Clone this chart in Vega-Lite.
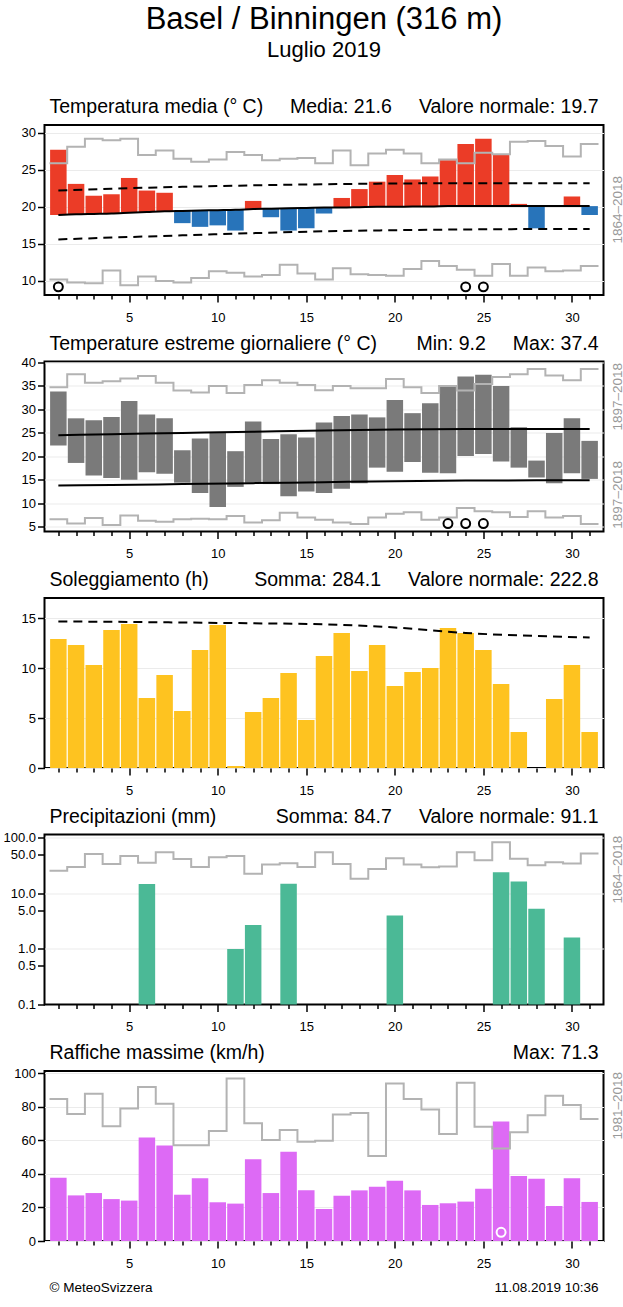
{
  "$schema": "https://vega.github.io/schema/vega-lite/v6.json",
  "background": "white",
  "padding": {"left": 1.5, "top": 4, "right": 0, "bottom": 0},
  "title": {"text": "Basel / Binningen (316 m)", "subtitle": "Luglio 2019", "fontSize": 31, "subtitleFontSize": 22, "fontWeight": "normal", "anchor": "middle", "frame": "group", "offset": 34, "subtitlePadding": 4, "color": "black", "subtitleColor": "black", "font": "Liberation Sans", "subtitleFont": "Liberation Sans"},
  "spacing": 7.5,
  "datasets": {
    "days": [
      {"day":1,"t":27.7,"n":18.9,"r1":true,"mn":22.3,"mx":33.8,"r2":false,"s":12.9,"p":0,"g":37.8,"r5":false},
      {"day":2,"t":23.1,"n":19.0,"r1":false,"mn":18.6,"mx":28.1,"r2":false,"s":12.3,"p":0,"g":27.2,"r5":false},
      {"day":3,"t":21.5,"n":19.05,"r1":false,"mn":15.9,"mx":27.7,"r2":false,"s":10.3,"p":0,"g":28.6,"r5":false},
      {"day":4,"t":21.7,"n":19.1,"r1":false,"mn":15.4,"mx":28.4,"r2":false,"s":13.8,"p":0,"g":25.0,"r5":false},
      {"day":5,"t":23.9,"n":19.2,"r1":false,"mn":15.0,"mx":31.8,"r2":false,"s":14.4,"p":0,"g":24.1,"r5":false},
      {"day":6,"t":22.2,"n":19.3,"r1":false,"mn":16.6,"mx":28.9,"r2":false,"s":7.0,"p":14.8,"g":61.8,"r5":false},
      {"day":7,"t":21.9,"n":19.4,"r1":false,"mn":16.3,"mx":28.1,"r2":false,"s":9.3,"p":0,"g":56.9,"r5":false},
      {"day":8,"t":17.8,"n":19.45,"r1":false,"mn":14.4,"mx":21.3,"r2":false,"s":5.7,"p":0,"g":27.6,"r5":false},
      {"day":9,"t":17.3,"n":19.5,"r1":false,"mn":12.2,"mx":23.8,"r2":false,"s":11.8,"p":0,"g":37.4,"r5":false},
      {"day":10,"t":17.5,"n":19.55,"r1":false,"mn":9.2,"mx":25.0,"r2":false,"s":14.3,"p":0,"g":23.1,"r5":false},
      {"day":11,"t":16.8,"n":19.6,"r1":false,"mn":13.5,"mx":21.1,"r2":false,"s":0.2,"p":1.0,"g":22.3,"r5":false},
      {"day":12,"t":20.8,"n":19.7,"r1":false,"mn":14.4,"mx":27.4,"r2":false,"s":5.6,"p":2.7,"g":48.7,"r5":false},
      {"day":13,"t":18.6,"n":19.75,"r1":false,"mn":14.1,"mx":23.7,"r2":false,"s":7.0,"p":0,"g":28.6,"r5":false},
      {"day":14,"t":16.8,"n":19.8,"r1":false,"mn":11.5,"mx":24.7,"r2":false,"s":9.5,"p":14.9,"g":53.3,"r5":false},
      {"day":15,"t":17.1,"n":19.85,"r1":false,"mn":12.5,"mx":24.0,"r2":false,"s":4.8,"p":0,"g":30.2,"r5":false},
      {"day":16,"t":19.1,"n":19.9,"r1":false,"mn":12.2,"mx":27.2,"r2":false,"s":11.2,"p":0,"g":19.1,"r5":false},
      {"day":17,"t":21.2,"n":19.9,"r1":false,"mn":13.1,"mx":28.6,"r2":false,"s":13.5,"p":0,"g":27.0,"r5":false},
      {"day":18,"t":22.4,"n":19.95,"r1":false,"mn":14.3,"mx":28.9,"r2":false,"s":9.7,"p":0,"g":30.2,"r5":false},
      {"day":19,"t":23.4,"n":20.0,"r1":false,"mn":17.6,"mx":28.3,"r2":false,"s":12.3,"p":0,"g":32.4,"r5":false},
      {"day":20,"t":24.3,"n":20.0,"r1":false,"mn":16.7,"mx":32.0,"r2":false,"s":8.2,"p":4.0,"g":36.0,"r5":false},
      {"day":21,"t":23.7,"n":20.05,"r1":false,"mn":18.8,"mx":29.2,"r2":false,"s":9.6,"p":0,"g":30.2,"r5":false},
      {"day":22,"t":24.1,"n":20.05,"r1":false,"mn":16.5,"mx":31.3,"r2":false,"s":10.0,"p":0,"g":21.5,"r5":false},
      {"day":23,"t":26.3,"n":20.1,"r1":false,"mn":16.4,"mx":35.2,"r2":true,"s":14.0,"p":0,"g":22.5,"r5":false},
      {"day":24,"t":28.5,"n":20.1,"r1":true,"mn":20.1,"mx":37.0,"r2":true,"s":13.5,"p":0,"g":23.5,"r5":false},
      {"day":25,"t":29.2,"n":20.1,"r1":true,"mn":20.5,"mx":37.4,"r2":true,"s":11.8,"p":0,"g":31.2,"r5":false},
      {"day":26,"t":27.0,"n":20.1,"r1":false,"mn":18.9,"mx":35.0,"r2":false,"s":8.4,"p":24.0,"g":71.3,"r5":true},
      {"day":27,"t":20.4,"n":20.1,"r1":false,"mn":17.6,"mx":26.2,"r2":false,"s":3.6,"p":16.4,"g":38.8,"r5":false},
      {"day":28,"t":17.1,"n":20.1,"r1":false,"mn":15.5,"mx":19.1,"r2":false,"s":0.0,"p":5.3,"g":37.2,"r5":false},
      {"day":29,"t":20.1,"n":20.1,"r1":false,"mn":14.3,"mx":25.0,"r2":false,"s":6.9,"p":0,"g":20.9,"r5":false},
      {"day":30,"t":21.4,"n":20.1,"r1":false,"mn":16.4,"mx":28.1,"r2":false,"s":10.3,"p":1.6,"g":37.4,"r5":false},
      {"day":31,"t":18.9,"n":20.1,"r1":false,"mn":15.2,"mx":23.3,"r2":false,"s":3.6,"p":0,"g":23.3,"r5":false}
    ],
    "steps": [
      {"e":0.5,"h1":25.9,"l1":10.2,"h2":34.7,"l2":6.6,"h4":25.7,"h5":84.7},
      {"e":1.5,"h1":28.1,"l1":9.8,"h2":37.5,"l2":5.7,"h4":29.9,"h5":75.7},
      {"e":2.5,"h1":29.2,"l1":9.7,"h2":35.7,"l2":6.9,"h4":51.4,"h5":87.9},
      {"e":3.5,"h1":29.0,"l1":11.4,"h2":36.0,"l2":5.4,"h4":33.9,"h5":68.4},
      {"e":4.5,"h1":29.2,"l1":9.4,"h2":36.6,"l2":7.4,"h4":47.3,"h5":79.1},
      {"e":5.5,"h1":27.0,"l1":10.6,"h2":37.1,"l2":6.3,"h4":35.8,"h5":91.8},
      {"e":6.5,"h1":27.6,"l1":10.0,"h2":35.7,"l2":6.1,"h4":55.1,"h5":81.9},
      {"e":7.5,"h1":26.5,"l1":9.8,"h2":34.0,"l2":6.6,"h4":41.7,"h5":57.1},
      {"e":8.5,"h1":26.1,"l1":10.4,"h2":33.6,"l2":6.7,"h4":29.9,"h5":57.1},
      {"e":9.5,"h1":26.4,"l1":11.3,"h2":35.0,"l2":6.6,"h4":44.8,"h5":65.6},
      {"e":10.5,"h1":27.4,"l1":11.1,"h2":33.5,"l2":7.3,"h4":47.3,"h5":97.0},
      {"e":11.5,"h1":27.0,"l1":10.6,"h2":35.2,"l2":5.9,"h4":22.7,"h5":70.2},
      {"e":12.5,"h1":26.3,"l1":10.8,"h2":36.2,"l2":6.4,"h4":33.0,"h5":60.2},
      {"e":13.5,"h1":26.5,"l1":12.2,"h2":35.7,"l2":8.0,"h4":34.8,"h5":66.2},
      {"e":14.5,"h1":26.6,"l1":11.0,"h2":35.2,"l2":7.0,"h4":29.9,"h5":59.2},
      {"e":15.5,"h1":25.9,"l1":10.2,"h2":34.1,"l2":6.5,"h4":55.1,"h5":59.8},
      {"e":16.5,"h1":27.6,"l1":11.7,"h2":35.0,"l2":5.9,"h4":33.9,"h5":75.5},
      {"e":17.5,"h1":25.6,"l1":10.9,"h2":34.5,"l2":5.6,"h4":18.4,"h5":76.3},
      {"e":18.5,"h1":27.2,"l1":10.8,"h2":34.5,"l2":7.0,"h4":27.6,"h5":50.7},
      {"e":19.5,"h1":27.7,"l1":10.7,"h2":36.5,"l2":7.8,"h4":42.9,"h5":94.0},
      {"e":20.5,"h1":27.2,"l1":11.6,"h2":34.7,"l2":8.1,"h4":33.0,"h5":84.7},
      {"e":21.5,"h1":25.9,"l1":12.7,"h2":33.5,"l2":6.5,"h4":29.5,"h5":78.5},
      {"e":22.5,"h1":26.4,"l1":12.0,"h2":35.0,"l2":7.0,"h4":30.4,"h5":63.8},
      {"e":23.5,"h1":25.9,"l1":11.5,"h2":34.0,"l2":9.0,"h4":55.1,"h5":94.4},
      {"e":24.5,"h1":27.3,"l1":10.7,"h2":35.4,"l2":8.3,"h4":39.5,"h5":68.2},
      {"e":25.5,"h1":27.1,"l1":12.3,"h2":36.9,"l2":8.1,"h4":83.5,"h5":55.1},
      {"e":26.5,"h1":28.8,"l1":10.7,"h2":37.5,"l2":7.1,"h4":42.3,"h5":64.8},
      {"e":27.5,"h1":28.9,"l1":11.8,"h2":38.6,"l2":8.3,"h4":32.1,"h5":75.0},
      {"e":28.5,"h1":28.2,"l1":11.3,"h2":37.2,"l2":7.0,"h4":36.3,"h5":86.7},
      {"e":29.5,"h1":26.8,"l1":11.4,"h2":36.2,"l2":7.3,"h4":34.4,"h5":81.1},
      {"e":30.5,"h1":28.5,"l1":12.0,"h2":38.6,"l2":5.6,"h4":52.1,"h5":72.8},
      {"e":31.5,"h1":28.5,"l1":12.0,"h2":38.6,"l2":5.6,"h4":52.1,"h5":72.8}
    ],
    "norms": [
      {"day":1,"u1":22.2,"lo1":15.6,"u2":24.5,"lo2":13.8,"s3":14.65},
      {"day":4,"u1":22.45,"lo1":15.85,"u2":24.7,"lo2":13.9,"s3":14.62},
      {"day":8,"u1":22.7,"lo1":16.15,"u2":25.0,"lo2":14.1,"s3":14.55},
      {"day":12,"u1":22.9,"lo1":16.45,"u2":25.25,"lo2":14.3,"s3":14.47},
      {"day":16,"u1":23.05,"lo1":16.7,"u2":25.5,"lo2":14.5,"s3":14.37},
      {"day":20,"u1":23.15,"lo1":16.85,"u2":25.7,"lo2":14.7,"s3":14.05},
      {"day":24,"u1":23.2,"lo1":16.95,"u2":25.8,"lo2":14.85,"s3":13.5},
      {"day":28,"u1":23.2,"lo1":17.0,"u2":25.8,"lo2":14.9,"s3":13.2},
      {"day":31,"u1":23.2,"lo1":17.0,"u2":25.8,"lo2":14.9,"s3":13.05}
    ]
  },
  "vconcat": [
    {
      "width": 559, "height": 170,
      "resolve": {"axis": {"x": "independent", "y": "independent"}},
      "layer": [
        {"data": {"name": "days"}, "mark": {"type": "bar", "width": 16.5},
         "encoding": {
           "x": {"field": "day", "type": "quantitative", "scale": {"domain": [0.5, 31.5], "nice": false, "zero": false},
                 "axis": {"orient": "bottom", "values": [1,2,3,4,5,6,7,8,9,10,11,12,13,14,15,16,17,18,19,20,21,22,23,24,25,26,27,28,29,30,31], "labelExpr": "datum.value % 5 === 0 ? datum.label : ''", "tickSize": {"condition": {"test": "datum.value % 5 === 0", "value": 7}, "value": 4}, "tickColor": "black", "tickWidth": 1.5, "labelFontSize": 13, "labelColor": "black", "labelPadding": 9, "domain": false, "grid": false, "title": null, "labelOverlap": false, "labelFlush": false}},
           "y": {"field": "n", "type": "quantitative", "scale": {"domain": [8.1, 31.05], "nice": false, "zero": false},
                 "axis": {"orient": "left", "values": [10,15,20,25,30], "tickSize": 7, "tickColor": "black", "tickWidth": 1.5, "labelFontSize": 13, "labelColor": "black", "labelPadding": 2, "domain": false, "grid": true, "gridColor": "#ebebeb", "title": null}},
           "y2": {"field": "t"},
           "color": {"condition": {"test": "datum.t >= datum.n", "value": "#eb3c27"}, "value": "#2874ba"}
         }},
        {"data": {"name": "steps"}, "mark": {"type": "line", "interpolate": "step-after", "color": "#b3b3b3", "strokeWidth": 2},
         "encoding": {"x": {"field": "e", "type": "quantitative", "scale": {"domain": [0.5, 31.5], "nice": false, "zero": false}, "axis": null},
                      "y": {"field": "h1", "type": "quantitative", "scale": {"domain": [8.1, 31.05], "nice": false, "zero": false}, "axis": null}}},
        {"data": {"name": "steps"}, "mark": {"type": "line", "interpolate": "step-after", "color": "#b3b3b3", "strokeWidth": 2},
         "encoding": {"x": {"field": "e", "type": "quantitative", "scale": {"domain": [0.5, 31.5], "nice": false, "zero": false}, "axis": null},
                      "y": {"field": "l1", "type": "quantitative", "scale": {"domain": [8.1, 31.05], "nice": false, "zero": false}, "axis": null}}},
        {"data": {"name": "norms"}, "mark": {"type": "line", "interpolate": "monotone", "color": "black", "strokeWidth": 2, "strokeDash": [9, 6]},
         "encoding": {"x": {"field": "day", "type": "quantitative", "scale": {"domain": [0.5, 31.5], "nice": false, "zero": false}, "axis": null},
                      "y": {"field": "u1", "type": "quantitative", "scale": {"domain": [8.1, 31.05], "nice": false, "zero": false}, "axis": null}}},
        {"data": {"name": "norms"}, "mark": {"type": "line", "interpolate": "monotone", "color": "black", "strokeWidth": 2, "strokeDash": [9, 6]},
         "encoding": {"x": {"field": "day", "type": "quantitative", "scale": {"domain": [0.5, 31.5], "nice": false, "zero": false}, "axis": null},
                      "y": {"field": "lo1", "type": "quantitative", "scale": {"domain": [8.1, 31.05], "nice": false, "zero": false}, "axis": null}}},
        {"data": {"name": "days"}, "mark": {"type": "line", "interpolate": "monotone", "color": "black", "strokeWidth": 2},
         "encoding": {"x": {"field": "day", "type": "quantitative", "scale": {"domain": [0.5, 31.5], "nice": false, "zero": false}, "axis": null},
                      "y": {"field": "n", "type": "quantitative", "scale": {"domain": [8.1, 31.05], "nice": false, "zero": false}, "axis": null}}},
        {"data": {"name": "days"}, "transform": [{"filter": "datum.r1"}],
         "mark": {"type": "point", "shape": "circle", "filled": false, "stroke": "black", "strokeWidth": 2, "size": 80, "opacity": 1},
         "encoding": {"x": {"field": "day", "type": "quantitative", "scale": {"domain": [0.5, 31.5], "nice": false, "zero": false}, "axis": null},
                      "y": {"datum": 9.2, "type": "quantitative", "scale": {"domain": [8.1, 31.05], "nice": false, "zero": false}, "axis": null}}},
        {"data": {"values": [{"label": "Temperatura media (° C)"}]},
         "mark": {"type": "text", "align": "left", "baseline": "alphabetic", "dy": -12, "fontSize": 19.5, "font": "Liberation Sans", "color": "black"},
         "encoding": {"x": {"datum": 0.5, "type": "quantitative", "axis": null}, "y": {"datum": 31.05, "type": "quantitative", "axis": null}, "text": {"field": "label"}}},
        {"data": {"values": [{"label": "Media: 21.6\u00a0\u00a0\u00a0\u00a0\u00a0Valore normale: 19.7"}]},
         "mark": {"type": "text", "align": "right", "baseline": "alphabetic", "dy": -12, "fontSize": 19.5, "font": "Liberation Sans", "color": "black"},
         "encoding": {"x": {"datum": 31.5, "type": "quantitative", "axis": null}, "y": {"datum": 31.05, "type": "quantitative", "axis": null}, "text": {"field": "label"}}},
        {"data": {"values": [{"label": "1864–2018"}]},
         "mark": {"type": "text", "angle": 270, "align": "center", "baseline": "middle", "dy": 19, "fontSize": 13.5, "font": "Liberation Sans", "color": "#999999"},
         "encoding": {"x": {"datum": 31.5, "type": "quantitative", "axis": null}, "y": {"datum": 19.6, "type": "quantitative", "axis": null}, "text": {"field": "label"}}}
      ]
    },
    {
      "width": 559, "height": 170,
      "resolve": {"axis": {"x": "independent", "y": "independent"}},
      "layer": [
        {"data": {"name": "days"}, "mark": {"type": "bar", "width": 16.5, "color": "#7a7a7a"},
         "encoding": {
           "x": {"field": "day", "type": "quantitative", "scale": {"domain": [0.5, 31.5], "nice": false, "zero": false},
                 "axis": {"orient": "bottom", "values": [1,2,3,4,5,6,7,8,9,10,11,12,13,14,15,16,17,18,19,20,21,22,23,24,25,26,27,28,29,30,31], "labelExpr": "datum.value % 5 === 0 ? datum.label : ''", "tickSize": {"condition": {"test": "datum.value % 5 === 0", "value": 7}, "value": 4}, "tickColor": "black", "tickWidth": 1.5, "labelFontSize": 13, "labelColor": "black", "labelPadding": 9, "domain": false, "grid": false, "title": null, "labelOverlap": false, "labelFlush": false}},
           "y": {"field": "mn", "type": "quantitative", "scale": {"domain": [4, 40.2], "nice": false, "zero": false},
                 "axis": {"orient": "left", "values": [5,10,15,20,25,30,35,40], "tickSize": 7, "tickColor": "black", "tickWidth": 1.5, "labelFontSize": 13, "labelColor": "black", "labelPadding": 2, "domain": false, "grid": true, "gridColor": "#ebebeb", "title": null}},
           "y2": {"field": "mx"}
         }},
        {"data": {"name": "steps"}, "mark": {"type": "line", "interpolate": "step-after", "color": "#b3b3b3", "strokeWidth": 2},
         "encoding": {"x": {"field": "e", "type": "quantitative", "scale": {"domain": [0.5, 31.5], "nice": false, "zero": false}, "axis": null},
                      "y": {"field": "h2", "type": "quantitative", "scale": {"domain": [4, 40.2], "nice": false, "zero": false}, "axis": null}}},
        {"data": {"name": "steps"}, "mark": {"type": "line", "interpolate": "step-after", "color": "#b3b3b3", "strokeWidth": 2},
         "encoding": {"x": {"field": "e", "type": "quantitative", "scale": {"domain": [0.5, 31.5], "nice": false, "zero": false}, "axis": null},
                      "y": {"field": "l2", "type": "quantitative", "scale": {"domain": [4, 40.2], "nice": false, "zero": false}, "axis": null}}},
        {"data": {"name": "norms"}, "mark": {"type": "line", "interpolate": "monotone", "color": "black", "strokeWidth": 2},
         "encoding": {"x": {"field": "day", "type": "quantitative", "scale": {"domain": [0.5, 31.5], "nice": false, "zero": false}, "axis": null},
                      "y": {"field": "u2", "type": "quantitative", "scale": {"domain": [4, 40.2], "nice": false, "zero": false}, "axis": null}}},
        {"data": {"name": "norms"}, "mark": {"type": "line", "interpolate": "monotone", "color": "black", "strokeWidth": 2},
         "encoding": {"x": {"field": "day", "type": "quantitative", "scale": {"domain": [0.5, 31.5], "nice": false, "zero": false}, "axis": null},
                      "y": {"field": "lo2", "type": "quantitative", "scale": {"domain": [4, 40.2], "nice": false, "zero": false}, "axis": null}}},
        {"data": {"name": "days"}, "transform": [{"filter": "datum.r2"}],
         "mark": {"type": "point", "shape": "circle", "filled": false, "stroke": "black", "strokeWidth": 2, "size": 80, "opacity": 1},
         "encoding": {"x": {"field": "day", "type": "quantitative", "scale": {"domain": [0.5, 31.5], "nice": false, "zero": false}, "axis": null},
                      "y": {"datum": 5.7, "type": "quantitative", "scale": {"domain": [4, 40.2], "nice": false, "zero": false}, "axis": null}}},
        {"data": {"values": [{"label": "Temperature estreme giornaliere (° C)"}]},
         "mark": {"type": "text", "align": "left", "baseline": "alphabetic", "dy": -12, "fontSize": 19.5, "font": "Liberation Sans", "color": "black"},
         "encoding": {"x": {"datum": 0.5, "type": "quantitative", "axis": null}, "y": {"datum": 40.2, "type": "quantitative", "axis": null}, "text": {"field": "label"}}},
        {"data": {"values": [{"label": "Min: 9.2\u00a0\u00a0\u00a0\u00a0\u00a0Max: 37.4"}]},
         "mark": {"type": "text", "align": "right", "baseline": "alphabetic", "dy": -12, "fontSize": 19.5, "font": "Liberation Sans", "color": "black"},
         "encoding": {"x": {"datum": 31.5, "type": "quantitative", "axis": null}, "y": {"datum": 40.2, "type": "quantitative", "axis": null}, "text": {"field": "label"}}},
        {"data": {"values": [{"label": "1897–2018"}]},
         "mark": {"type": "text", "angle": 270, "align": "center", "baseline": "middle", "dy": 19, "fontSize": 13.5, "font": "Liberation Sans", "color": "#999999"},
         "encoding": {"x": {"datum": 31.5, "type": "quantitative", "axis": null}, "y": {"datum": 32.7, "type": "quantitative", "axis": null}, "text": {"field": "label"}}},
        {"data": {"values": [{"label": "1897–2018"}]},
         "mark": {"type": "text", "angle": 270, "align": "center", "baseline": "middle", "dy": 19, "fontSize": 13.5, "font": "Liberation Sans", "color": "#999999"},
         "encoding": {"x": {"datum": 31.5, "type": "quantitative", "axis": null}, "y": {"datum": 11.8, "type": "quantitative", "axis": null}, "text": {"field": "label"}}}
      ]
    },
    {
      "width": 559, "height": 170,
      "resolve": {"axis": {"x": "independent", "y": "independent"}},
      "layer": [
        {"data": {"name": "days"}, "mark": {"type": "bar", "width": 16.5, "color": "#fec320"},
         "encoding": {
           "x": {"field": "day", "type": "quantitative", "scale": {"domain": [0.5, 31.5], "nice": false, "zero": false},
                 "axis": {"orient": "bottom", "values": [1,2,3,4,5,6,7,8,9,10,11,12,13,14,15,16,17,18,19,20,21,22,23,24,25,26,27,28,29,30,31], "labelExpr": "datum.value % 5 === 0 ? datum.label : ''", "tickSize": {"condition": {"test": "datum.value % 5 === 0", "value": 7}, "value": 4}, "tickColor": "black", "tickWidth": 1.5, "labelFontSize": 13, "labelColor": "black", "labelPadding": 9, "domain": false, "grid": false, "title": null, "labelOverlap": false, "labelFlush": false}},
           "y": {"field": "s", "type": "quantitative", "stack": null, "scale": {"domain": [0, 17], "nice": false},
                 "axis": {"orient": "left", "values": [0,5,10,15], "tickSize": 7, "tickColor": "black", "tickWidth": 1.5, "labelFontSize": 13, "labelColor": "black", "labelPadding": 2, "domain": false, "grid": true, "gridColor": "#ebebeb", "title": null}}
         }},
        {"data": {"name": "norms"}, "mark": {"type": "line", "interpolate": "monotone", "color": "black", "strokeWidth": 2, "strokeDash": [9, 6]},
         "encoding": {"x": {"field": "day", "type": "quantitative", "scale": {"domain": [0.5, 31.5], "nice": false, "zero": false}, "axis": null},
                      "y": {"field": "s3", "type": "quantitative", "scale": {"domain": [0, 17], "nice": false}, "axis": null}}},
        {"data": {"values": [{"label": "Soleggiamento (h)"}]},
         "mark": {"type": "text", "align": "left", "baseline": "alphabetic", "dy": -12, "fontSize": 19.5, "font": "Liberation Sans", "color": "black"},
         "encoding": {"x": {"datum": 0.5, "type": "quantitative", "axis": null}, "y": {"datum": 17, "type": "quantitative", "axis": null}, "text": {"field": "label"}}},
        {"data": {"values": [{"label": "Somma: 284.1\u00a0\u00a0\u00a0\u00a0\u00a0Valore normale: 222.8"}]},
         "mark": {"type": "text", "align": "right", "baseline": "alphabetic", "dy": -12, "fontSize": 19.5, "font": "Liberation Sans", "color": "black"},
         "encoding": {"x": {"datum": 31.5, "type": "quantitative", "axis": null}, "y": {"datum": 17, "type": "quantitative", "axis": null}, "text": {"field": "label"}}}
      ]
    },
    {
      "width": 559, "height": 170,
      "resolve": {"axis": {"x": "independent", "y": "independent"}},
      "layer": [
        {"data": {"name": "days"}, "transform": [{"filter": "datum.p > 0"}], "mark": {"type": "bar", "width": 16.5, "color": "#4bb996"},
         "encoding": {
           "x": {"field": "day", "type": "quantitative", "scale": {"domain": [0.5, 31.5], "nice": false, "zero": false},
                 "axis": {"orient": "bottom", "values": [1,2,3,4,5,6,7,8,9,10,11,12,13,14,15,16,17,18,19,20,21,22,23,24,25,26,27,28,29,30,31], "labelExpr": "datum.value % 5 === 0 ? datum.label : ''", "tickSize": {"condition": {"test": "datum.value % 5 === 0", "value": 7}, "value": 4}, "tickColor": "black", "tickWidth": 1.5, "labelFontSize": 13, "labelColor": "black", "labelPadding": 9, "domain": false, "grid": false, "title": null, "labelOverlap": false, "labelFlush": false}},
           "y": {"field": "p", "type": "quantitative", "stack": null, "scale": {"type": "log", "domain": [0.1, 115], "nice": false},
                 "axis": {"orient": "left", "values": [0.1,0.5,1,5,10,50,100], "format": ".1f", "tickSize": 7, "tickColor": "black", "tickWidth": 1.5, "labelFontSize": 13, "labelColor": "black", "labelPadding": 2, "domain": false, "grid": true, "gridColor": "#ebebeb", "gridOpacity": {"condition": {"test": "datum.value == 1 || datum.value == 10 || datum.value == 100", "value": 1}, "value": 0}, "title": null}},
           "y2": {"datum": 0.1}
         }},
        {"data": {"name": "steps"}, "mark": {"type": "line", "interpolate": "step-after", "color": "#b3b3b3", "strokeWidth": 2},
         "encoding": {"x": {"field": "e", "type": "quantitative", "scale": {"domain": [0.5, 31.5], "nice": false, "zero": false}, "axis": null},
                      "y": {"field": "h4", "type": "quantitative", "scale": {"type": "log", "domain": [0.1, 115], "nice": false}, "axis": null}}},
        {"data": {"values": [{"label": "Precipitazioni (mm)"}]},
         "mark": {"type": "text", "align": "left", "baseline": "alphabetic", "dy": -12, "fontSize": 19.5, "font": "Liberation Sans", "color": "black"},
         "encoding": {"x": {"datum": 0.5, "type": "quantitative", "axis": null}, "y": {"datum": 115, "type": "quantitative", "axis": null}, "text": {"field": "label"}}},
        {"data": {"values": [{"label": "Somma: 84.7\u00a0\u00a0\u00a0\u00a0\u00a0Valore normale: 91.1"}]},
         "mark": {"type": "text", "align": "right", "baseline": "alphabetic", "dy": -12, "fontSize": 19.5, "font": "Liberation Sans", "color": "black"},
         "encoding": {"x": {"datum": 31.5, "type": "quantitative", "axis": null}, "y": {"datum": 115, "type": "quantitative", "axis": null}, "text": {"field": "label"}}},
        {"data": {"values": [{"label": "1864–2018"}]},
         "mark": {"type": "text", "angle": 270, "align": "center", "baseline": "middle", "dy": 19, "fontSize": 13.5, "font": "Liberation Sans", "color": "#999999"},
         "encoding": {"x": {"datum": 31.5, "type": "quantitative", "axis": null}, "y": {"datum": 26.8, "type": "quantitative", "axis": null}, "text": {"field": "label"}}}
      ]
    },
    {
      "width": 559, "height": 170,
      "resolve": {"axis": {"x": "independent", "y": "independent"}},
      "layer": [
        {"data": {"name": "days"}, "mark": {"type": "bar", "width": 16.5, "color": "#dd6af5"},
         "encoding": {
           "x": {"field": "day", "type": "quantitative", "scale": {"domain": [0.5, 31.5], "nice": false, "zero": false},
                 "axis": {"orient": "bottom", "values": [1,2,3,4,5,6,7,8,9,10,11,12,13,14,15,16,17,18,19,20,21,22,23,24,25,26,27,28,29,30,31], "labelExpr": "datum.value % 5 === 0 ? datum.label : ''", "tickSize": {"condition": {"test": "datum.value % 5 === 0", "value": 7}, "value": 4}, "tickColor": "black", "tickWidth": 1.5, "labelFontSize": 13, "labelColor": "black", "labelPadding": 9, "domain": false, "grid": false, "title": null, "labelOverlap": false, "labelFlush": false}},
           "y": {"field": "g", "type": "quantitative", "stack": null, "scale": {"domain": [0, 101.4], "nice": false},
                 "axis": {"orient": "left", "values": [0,20,40,60,80,100], "tickSize": 7, "tickColor": "black", "tickWidth": 1.5, "labelFontSize": 13, "labelColor": "black", "labelPadding": 2, "domain": false, "grid": true, "gridColor": "#ebebeb", "title": null}}
         }},
        {"data": {"name": "steps"}, "mark": {"type": "line", "interpolate": "step-after", "color": "#b3b3b3", "strokeWidth": 2},
         "encoding": {"x": {"field": "e", "type": "quantitative", "scale": {"domain": [0.5, 31.5], "nice": false, "zero": false}, "axis": null},
                      "y": {"field": "h5", "type": "quantitative", "scale": {"domain": [0, 101.4], "nice": false}, "axis": null}}},
        {"data": {"name": "days"}, "transform": [{"filter": "datum.r5"}],
         "mark": {"type": "point", "shape": "circle", "filled": false, "stroke": "white", "strokeWidth": 2, "size": 80, "opacity": 1},
         "encoding": {"x": {"field": "day", "type": "quantitative", "scale": {"domain": [0.5, 31.5], "nice": false, "zero": false}, "axis": null},
                      "y": {"datum": 5.2, "type": "quantitative", "scale": {"domain": [0, 101.4], "nice": false}, "axis": null}}},
        {"data": {"values": [{"label": "Raffiche massime (km/h)"}]},
         "mark": {"type": "text", "align": "left", "baseline": "alphabetic", "dy": -12, "fontSize": 19.5, "font": "Liberation Sans", "color": "black"},
         "encoding": {"x": {"datum": 0.5, "type": "quantitative", "axis": null}, "y": {"datum": 101.4, "type": "quantitative", "axis": null}, "text": {"field": "label"}}},
        {"data": {"values": [{"label": "Max: 71.3"}]},
         "mark": {"type": "text", "align": "right", "baseline": "alphabetic", "dy": -12, "fontSize": 19.5, "font": "Liberation Sans", "color": "black"},
         "encoding": {"x": {"datum": 31.5, "type": "quantitative", "axis": null}, "y": {"datum": 101.4, "type": "quantitative", "axis": null}, "text": {"field": "label"}}},
        {"data": {"values": [{"label": "1981–2018"}]},
         "mark": {"type": "text", "angle": 270, "align": "center", "baseline": "middle", "dy": 19, "fontSize": 13.5, "font": "Liberation Sans", "color": "#999999"},
         "encoding": {"x": {"datum": 31.5, "type": "quantitative", "axis": null}, "y": {"datum": 80.7, "type": "quantitative", "axis": null}, "text": {"field": "label"}}},
        {"data": {"values": [{"label": "© MeteoSvizzera"}]},
         "mark": {"type": "text", "align": "left", "baseline": "alphabetic", "dy": 51, "fontSize": 13.5, "font": "Liberation Sans", "color": "black"},
         "encoding": {"x": {"datum": 0.5, "type": "quantitative", "axis": null}, "y": {"datum": 0, "type": "quantitative", "axis": null}, "text": {"field": "label"}}},
        {"data": {"values": [{"label": "11.08.2019 10:36"}]},
         "mark": {"type": "text", "align": "right", "baseline": "alphabetic", "dy": 51, "fontSize": 13.5, "font": "Liberation Sans", "color": "black"},
         "encoding": {"x": {"datum": 31.5, "type": "quantitative", "axis": null}, "y": {"datum": 0, "type": "quantitative", "axis": null}, "text": {"field": "label"}}}
      ]
    }
  ],
  "config": {
    "font": "Liberation Sans",
    "view": {"stroke": "black", "strokeWidth": 2},
    "axis": {"labelFont": "Liberation Sans"}
  }
}
